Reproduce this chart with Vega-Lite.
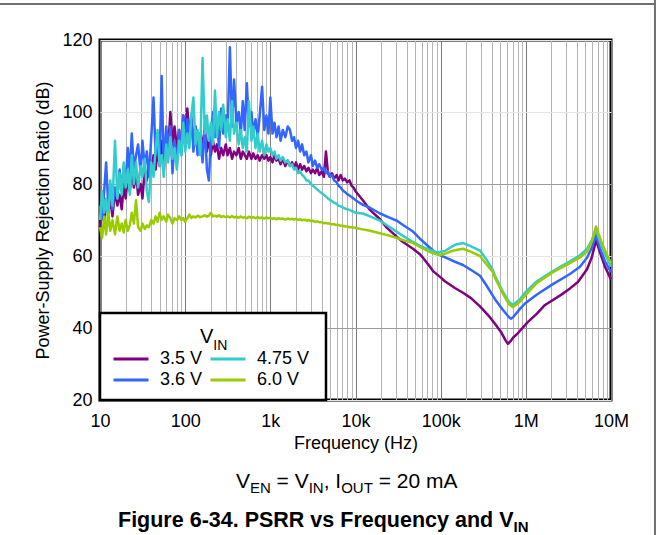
{
"$schema": "https://vega.github.io/schema/vega-lite/v6.json",
"width": 511, "height": 360,
"autosize": {"type": "none"},
"padding": {"left": 100, "top": 40, "right": 47, "bottom": 135},
"background": "white",
"config": {"view": {"stroke": "black", "strokeWidth": 3}, "font": "Liberation Sans"},
"datasets": {
"p": [{"f":10,"v":68},{"f":10.6,"v":74},{"f":11.2,"v":70},{"f":11.8,"v":75},{"f":12.5,"v":72},{"f":13.2,"v":76},{"f":14,"v":71},{"f":15,"v":78},{"f":16,"v":74},{"f":17,"v":77},{"f":18,"v":73},{"f":19,"v":80},{"f":20,"v":76},{"f":21.2,"v":82},{"f":22.4,"v":78},{"f":23.6,"v":84},{"f":25,"v":79},{"f":26.5,"v":83},{"f":28,"v":77},{"f":30,"v":80},{"f":31.5,"v":76},{"f":33.5,"v":84},{"f":35.5,"v":81},{"f":37.5,"v":86},{"f":40,"v":83},{"f":42.5,"v":88},{"f":45,"v":84},{"f":47.5,"v":90},{"f":50,"v":85},{"f":53,"v":92},{"f":56,"v":87},{"f":60,"v":94},{"f":63,"v":89},{"f":67,"v":100},{"f":71,"v":91},{"f":75,"v":96},{"f":80,"v":90},{"f":85,"v":95},{"f":90,"v":89},{"f":95,"v":99},
{"f":100,"v":92},{"f":106,"v":101},{"f":112,"v":94},{"f":118,"v":98},{"f":125,"v":92},{"f":132,"v":96},{"f":140,"v":90},{"f":150,"v":94},{"f":160,"v":91},{"f":170,"v":95},{"f":180,"v":89},{"f":190,"v":93},{"f":200,"v":88},{"f":212,"v":92},{"f":224,"v":89},{"f":236,"v":91},{"f":250,"v":87},{"f":265,"v":90},{"f":280,"v":88},{"f":300,"v":91},{"f":315,"v":88},{"f":335,"v":90},{"f":355,"v":87},{"f":375,"v":89},{"f":400,"v":88},{"f":425,"v":90},{"f":450,"v":87},{"f":475,"v":89},{"f":500,"v":88},{"f":530,"v":87},{"f":560,"v":89},{"f":600,"v":87},{"f":630,"v":88.5},{"f":670,"v":87},{"f":710,"v":88},{"f":750,"v":86.5},{"f":800,"v":88},{"f":850,"v":87},{"f":900,"v":88},{"f":950,"v":86.5},
{"f":1000,"v":87.5},{"f":1060,"v":86},{"f":1120,"v":88},{"f":1180,"v":86.5},{"f":1250,"v":87},{"f":1320,"v":85.5},{"f":1400,"v":87},{"f":1500,"v":85},{"f":1600,"v":86.5},{"f":1700,"v":85},{"f":1800,"v":86},{"f":1900,"v":84.5},{"f":2000,"v":86},{"f":2120,"v":84},{"f":2240,"v":85.5},{"f":2360,"v":84},{"f":2500,"v":85},{"f":2650,"v":83.5},{"f":2800,"v":84.5},{"f":3000,"v":83},{"f":3150,"v":84},{"f":3350,"v":83},{"f":3550,"v":84.5},{"f":3750,"v":82.5},{"f":4000,"v":83.5},{"f":4250,"v":82},{"f":4500,"v":89},{"f":4750,"v":83},{"f":5000,"v":82},{"f":5300,"v":83},{"f":5600,"v":81.5},{"f":6000,"v":82.5},{"f":6300,"v":81},{"f":6700,"v":82.5},{"f":7100,"v":81},{"f":7500,"v":81.5},{"f":8000,"v":80.5},{"f":8500,"v":81},{"f":9000,"v":79.5},{"f":9500,"v":79},
{"f":10000,"v":78},{"f":12200,"v":75.5},{"f":14800,"v":72.8},{"f":19400,"v":70.2},{"f":23400,"v":67.8},{"f":30700,"v":65.3},{"f":36100,"v":63.9},{"f":47300,"v":62},{"f":57100,"v":60.5},{"f":62000,"v":59.5},{"f":74900,"v":57},{"f":81300,"v":55.8},{"f":98200,"v":54.2},{"f":112000,"v":53},{"f":147000,"v":51.1},{"f":182800,"v":49.8},{"f":227000,"v":48.3},{"f":289500,"v":46},{"f":360000,"v":43.6},{"f":434000,"v":41.2},{"f":511000,"v":38.9},{"f":580000,"v":36.5},{"f":617000,"v":35.6},{"f":670000,"v":36.5},{"f":707000,"v":37.3},{"f":809000,"v":38.6},{"f":1060000,"v":41.7},{"f":1350000,"v":44},{"f":1680000,"v":46.4},{"f":2590000,"v":49.2},{"f":3300000,"v":51},{"f":4090000,"v":52.8},{"f":5230000,"v":56.3},{"f":5980000,"v":59.8},{"f":6670000,"v":64.4},{"f":7430000,"v":61},{"f":8500000,"v":57},{"f":10000000,"v":53.5}],
"b": [{"f":10,"v":74},{"f":10.6,"v":70},{"f":11.2,"v":78},{"f":11.8,"v":86},{"f":12.5,"v":74},{"f":13.2,"v":80},{"f":14,"v":73},{"f":15,"v":79},{"f":16,"v":76},{"f":17,"v":84},{"f":18,"v":78},{"f":19,"v":85},{"f":20,"v":80},{"f":21.2,"v":90},{"f":22.4,"v":83},{"f":23.6,"v":94},{"f":25,"v":84},{"f":26.5,"v":88},{"f":28,"v":91},{"f":30,"v":83},{"f":31.5,"v":92},{"f":33.5,"v":85},{"f":35.5,"v":89},{"f":37.5,"v":82},{"f":40,"v":93},{"f":42.5,"v":104},{"f":45,"v":88},{"f":47.5,"v":94},{"f":50,"v":86},{"f":53,"v":110},{"f":56,"v":84},{"f":60,"v":96},{"f":63,"v":90},{"f":67,"v":96},{"f":71,"v":83},{"f":75,"v":92},{"f":80,"v":86},{"f":85,"v":95},{"f":90,"v":88},{"f":95,"v":99},
{"f":100,"v":90},{"f":106,"v":98},{"f":112,"v":92},{"f":118,"v":99},{"f":125,"v":89},{"f":132,"v":96},{"f":140,"v":88},{"f":150,"v":94},{"f":160,"v":86},{"f":170,"v":97},{"f":180,"v":84},{"f":190,"v":81},{"f":200,"v":92},{"f":212,"v":100},{"f":224,"v":93},{"f":236,"v":98},{"f":250,"v":90},{"f":265,"v":101},{"f":280,"v":94},{"f":300,"v":99},{"f":315,"v":95},{"f":335,"v":118},{"f":355,"v":96},{"f":375,"v":109},{"f":400,"v":97},{"f":425,"v":100},{"f":450,"v":94},{"f":475,"v":103},{"f":500,"v":95},{"f":530,"v":108},{"f":560,"v":96},{"f":600,"v":100},{"f":630,"v":94},{"f":670,"v":98},{"f":710,"v":93},{"f":750,"v":99},{"f":800,"v":107},{"f":850,"v":95},{"f":900,"v":99},{"f":950,"v":94},
{"f":1000,"v":104},{"f":1060,"v":94},{"f":1120,"v":97},{"f":1180,"v":93},{"f":1250,"v":96},{"f":1320,"v":92},{"f":1400,"v":95},{"f":1500,"v":93},{"f":1600,"v":96},{"f":1700,"v":95},{"f":1800,"v":92},{"f":1900,"v":93},{"f":2000,"v":90},{"f":2120,"v":92},{"f":2240,"v":89},{"f":2360,"v":91},{"f":2500,"v":88},{"f":2650,"v":89},{"f":2800,"v":86},{"f":3000,"v":88},{"f":3150,"v":85},{"f":3350,"v":86.5},{"f":3550,"v":84.5},{"f":3750,"v":85.5},{"f":4000,"v":84},{"f":4250,"v":84.5},{"f":4500,"v":83},{"f":4750,"v":83.5},{"f":5000,"v":82},{"f":5300,"v":82.5},{"f":5600,"v":81},{"f":6000,"v":80.5},{"f":6300,"v":79.5},{"f":6700,"v":79},{"f":7100,"v":78.2},{"f":7500,"v":77.8},{"f":8000,"v":77.2},{"f":8500,"v":76.8},{"f":9000,"v":76.4},{"f":9500,"v":76},
{"f":10000,"v":75.5},{"f":12200,"v":74.2},{"f":14800,"v":73.4},{"f":19400,"v":71.8},{"f":25400,"v":70.6},{"f":30700,"v":69.8},{"f":36100,"v":68.6},{"f":47300,"v":66.8},{"f":57100,"v":64.8},{"f":74900,"v":62.3},{"f":90600,"v":60.6},{"f":118600,"v":59.4},{"f":147000,"v":58.4},{"f":182800,"v":57.5},{"f":221000,"v":56.3},{"f":289500,"v":54.5},{"f":350000,"v":51.6},{"f":434000,"v":48},{"f":539000,"v":45},{"f":634000,"v":43},{"f":670000,"v":42.6},{"f":707000,"v":43},{"f":853000,"v":45.3},{"f":977000,"v":46.8},{"f":1350000,"v":49.3},{"f":2080000,"v":52.2},{"f":3300000,"v":55},{"f":4320000,"v":57},{"f":5230000,"v":59.5},{"f":5980000,"v":62.4},{"f":6670000,"v":65.8},{"f":7430000,"v":62.2},{"f":8500000,"v":58.5},{"f":10000000,"v":55.5}],
"c": [{"f":10,"v":70},{"f":10.6,"v":78},{"f":11.2,"v":72},{"f":11.8,"v":76},{"f":12.5,"v":70},{"f":13.2,"v":81},{"f":14,"v":74},{"f":15,"v":92},{"f":16,"v":76},{"f":17,"v":83},{"f":18,"v":77},{"f":19,"v":86},{"f":20,"v":79},{"f":21.2,"v":84},{"f":22.4,"v":77},{"f":23.6,"v":88},{"f":25,"v":80},{"f":26.5,"v":86},{"f":28,"v":79},{"f":30,"v":85},{"f":31.5,"v":82},{"f":33.5,"v":87},{"f":35.5,"v":78},{"f":37.5,"v":75},{"f":40,"v":86},{"f":42.5,"v":82},{"f":45,"v":90},{"f":47.5,"v":95},{"f":50,"v":85},{"f":53,"v":88},{"f":56,"v":82},{"f":60,"v":91},{"f":63,"v":86},{"f":67,"v":93},{"f":71,"v":87},{"f":75,"v":90},{"f":80,"v":84},{"f":85,"v":92},{"f":90,"v":88},{"f":95,"v":97},
{"f":100,"v":89},{"f":106,"v":94},{"f":112,"v":90},{"f":118,"v":99},{"f":125,"v":104},{"f":132,"v":91},{"f":140,"v":95},{"f":150,"v":88},{"f":160,"v":115},{"f":170,"v":94},{"f":180,"v":99},{"f":190,"v":92},{"f":200,"v":97},{"f":212,"v":91},{"f":224,"v":106},{"f":236,"v":93},{"f":250,"v":100},{"f":265,"v":95},{"f":280,"v":102},{"f":300,"v":93},{"f":315,"v":98},{"f":335,"v":92},{"f":355,"v":103},{"f":375,"v":94},{"f":400,"v":97},{"f":425,"v":91},{"f":450,"v":95},{"f":475,"v":90},{"f":500,"v":93},{"f":530,"v":89},{"f":560,"v":103},{"f":600,"v":92},{"f":630,"v":96},{"f":670,"v":90},{"f":710,"v":94},{"f":750,"v":89},{"f":800,"v":92},{"f":850,"v":88},{"f":900,"v":91},{"f":950,"v":89},
{"f":1000,"v":90},{"f":1060,"v":88},{"f":1120,"v":89},{"f":1180,"v":87},{"f":1250,"v":88},{"f":1320,"v":86.5},{"f":1400,"v":87.5},{"f":1500,"v":86},{"f":1600,"v":86.5},{"f":1700,"v":85},{"f":1800,"v":85.5},{"f":1900,"v":84},{"f":2000,"v":84.5},{"f":2120,"v":83},{"f":2240,"v":83.5},{"f":2360,"v":82.5},{"f":2500,"v":82},{"f":2650,"v":81},{"f":2800,"v":81},{"f":3000,"v":80},{"f":3150,"v":79.5},{"f":3350,"v":79},{"f":3550,"v":78.5},{"f":3750,"v":78},{"f":4000,"v":77.5},{"f":4250,"v":77},{"f":4500,"v":76.5},{"f":4750,"v":76},{"f":5000,"v":75.6},{"f":5300,"v":75.2},{"f":5600,"v":74.8},{"f":6000,"v":74.5},{"f":6300,"v":74},{"f":6700,"v":73.8},{"f":7100,"v":73.5},{"f":7500,"v":73.2},{"f":8000,"v":73},{"f":8500,"v":72.8},{"f":9000,"v":72.5},{"f":9500,"v":72.3},
{"f":10000,"v":72},{"f":12200,"v":71.8},{"f":14800,"v":71},{"f":19400,"v":69.8},{"f":25400,"v":68},{"f":30700,"v":66.7},{"f":36100,"v":65.6},{"f":47300,"v":63.9},{"f":57100,"v":62.8},{"f":74900,"v":61.7},{"f":90600,"v":61},{"f":112000,"v":61.4},{"f":128600,"v":62.3},{"f":147000,"v":63.1},{"f":182800,"v":63.6},{"f":221000,"v":62.8},{"f":289500,"v":61.5},{"f":350000,"v":58.8},{"f":411000,"v":56},{"f":434000,"v":54.5},{"f":539000,"v":50},{"f":634000,"v":47.2},{"f":707000,"v":46.4},{"f":853000,"v":48},{"f":977000,"v":49.8},{"f":1350000,"v":53},{"f":2080000,"v":55.8},{"f":3300000,"v":58.5},{"f":4320000,"v":60.2},{"f":5230000,"v":62},{"f":5980000,"v":64.5},{"f":6670000,"v":67.2},{"f":7430000,"v":64},{"f":8500000,"v":60.5},{"f":10000000,"v":57}],
"g": [{"f":10,"v":68},{"f":10.6,"v":65},{"f":11.2,"v":71},{"f":11.8,"v":66},{"f":12.5,"v":72},{"f":13.2,"v":67},{"f":14,"v":70},{"f":15,"v":66},{"f":16,"v":71},{"f":17,"v":67},{"f":18,"v":69},{"f":19,"v":66.5},{"f":20,"v":70},{"f":21.2,"v":67},{"f":22.4,"v":68.5},{"f":23.6,"v":72},{"f":25,"v":69},{"f":26.5,"v":75.5},{"f":28,"v":68},{"f":30,"v":67},{"f":31.5,"v":69},{"f":33.5,"v":67.5},{"f":35.5,"v":68.5},{"f":37.5,"v":68},{"f":40,"v":70},{"f":42.5,"v":69},{"f":45,"v":71},{"f":47.5,"v":69.5},{"f":50,"v":72},{"f":53,"v":70},{"f":56,"v":71},{"f":60,"v":69.5},{"f":63,"v":71.5},{"f":67,"v":70.5},{"f":71,"v":69},{"f":75,"v":70.5},{"f":80,"v":70},{"f":85,"v":71},{"f":90,"v":70},{"f":95,"v":70.5},
{"f":100,"v":69.5},{"f":106,"v":70.5},{"f":112,"v":71.5},{"f":118,"v":70.6},{"f":125,"v":71},{"f":132,"v":70.7},{"f":140,"v":71.2},{"f":150,"v":70.8},{"f":160,"v":71},{"f":170,"v":71.3},{"f":180,"v":70.9},{"f":190,"v":71.2},{"f":200,"v":72},{"f":212,"v":71},{"f":224,"v":71.2},{"f":236,"v":70.9},{"f":250,"v":71.3},{"f":265,"v":70.8},{"f":280,"v":71.1},{"f":300,"v":70.8},{"f":315,"v":71},{"f":335,"v":70.7},{"f":355,"v":71.1},{"f":375,"v":70.7},{"f":400,"v":70.9},{"f":425,"v":70.6},{"f":450,"v":71},{"f":475,"v":70.6},{"f":500,"v":70.8},{"f":530,"v":70.5},{"f":560,"v":70.9},{"f":600,"v":70.6},{"f":630,"v":70.8},{"f":670,"v":70.5},{"f":710,"v":70.8},{"f":750,"v":70.5},{"f":800,"v":70.7},{"f":850,"v":70.4},{"f":900,"v":70.7},{"f":950,"v":70.5},
{"f":1000,"v":70.6},{"f":1060,"v":70.3},{"f":1120,"v":70.5},{"f":1180,"v":70.2},{"f":1250,"v":70.5},{"f":1320,"v":70.3},{"f":1400,"v":70.4},{"f":1500,"v":70.1},{"f":1600,"v":70.4},{"f":1700,"v":70.2},{"f":1800,"v":70.3},{"f":1900,"v":70.1},{"f":2000,"v":70.3},{"f":2120,"v":70},{"f":2240,"v":70.2},{"f":2360,"v":69.9},{"f":2500,"v":70.1},{"f":2650,"v":69.8},{"f":2800,"v":70},{"f":3000,"v":69.7},{"f":3150,"v":69.8},{"f":3350,"v":69.5},{"f":3550,"v":69.6},{"f":3750,"v":69.4},{"f":4000,"v":69.4},{"f":4250,"v":69.1},{"f":4500,"v":69.2},{"f":4750,"v":69},{"f":5000,"v":69},{"f":5300,"v":68.8},{"f":5600,"v":68.8},{"f":6000,"v":68.6},{"f":6300,"v":68.6},{"f":6700,"v":68.4},{"f":7100,"v":68.4},{"f":7500,"v":68.2},{"f":8000,"v":68.2},{"f":8500,"v":68},{"f":9000,"v":68},{"f":9500,"v":67.9},
{"f":10000,"v":67.8},{"f":12200,"v":67.4},{"f":14800,"v":67},{"f":19400,"v":66.3},{"f":25400,"v":65.6},{"f":30700,"v":65},{"f":36100,"v":64.4},{"f":47300,"v":63.6},{"f":57100,"v":62.5},{"f":74900,"v":61.1},{"f":90600,"v":60.4},{"f":98200,"v":60.3},{"f":112000,"v":60.6},{"f":128600,"v":61.2},{"f":147000,"v":61.6},{"f":182800,"v":62},{"f":221000,"v":61.3},{"f":289500,"v":60},{"f":350000,"v":57.5},{"f":411000,"v":55.5},{"f":434000,"v":54},{"f":539000,"v":49.5},{"f":634000,"v":46.6},{"f":707000,"v":45.8},{"f":853000,"v":47.3},{"f":977000,"v":49},{"f":1350000,"v":52.5},{"f":2080000,"v":55.5},{"f":3300000,"v":58},{"f":4320000,"v":59.6},{"f":5230000,"v":61.2},{"f":5980000,"v":64.2},{"f":6670000,"v":68.2},{"f":7430000,"v":65},{"f":8500000,"v":61.5},{"f":10000000,"v":58}],
"one": [{}]
},
"layer": [
{"data": {"name": "one"}, "mark": {"type": "rule", "color": "#707070", "strokeWidth": 2},
 "encoding": {"x": {"datum": 0.5, "type": "quantitative", "scale": {"type": "log", "domain": [10, 10000000], "nice": false}}, "x2": {"datum": 32840000}, "y": {"datum": 130, "type": "quantitative", "scale": {"domain": [20, 120], "nice": false, "zero": false}}}},
{"data": {"name": "one"}, "mark": {"type": "rule", "color": "#707070", "strokeWidth": 2},
 "encoding": {"x": {"datum": 32840000, "type": "quantitative", "scale": {"type": "log", "domain": [10, 10000000], "nice": false}}, "y": {"datum": 132, "type": "quantitative", "scale": {"domain": [20, 120], "nice": false, "zero": false}}, "y2": {"datum": -20}}},
{"data": {"name": "one"}, "mark": {"type": "rect", "fill": "white", "stroke": "black", "strokeWidth": 2.5},
 "encoding": {"x": {"datum": 10, "type": "quantitative", "scale": {"type": "log", "domain": [10, 10000000], "nice": false}}, "x2": {"datum": 4503}, "y": {"datum": 20, "type": "quantitative", "scale": {"domain": [20, 120], "nice": false, "zero": false}}, "y2": {"datum": 44.17}}},
{"encoding": {
  "x": {"field": "f", "type": "quantitative",
   "scale": {"type": "log", "domain": [10, 10000000], "nice": false},
   "axis": {"title": "Frequency (Hz)",
    "values": [10,20,30,40,50,60,70,80,90,100,200,300,400,500,600,700,800,900,1000,2000,3000,4000,5000,6000,7000,8000,9000,10000,20000,30000,40000,50000,60000,70000,80000,90000,100000,200000,300000,400000,500000,600000,700000,800000,900000,1000000,2000000,3000000,4000000,5000000,6000000,7000000,8000000,9000000,10000000],
    "labelExpr": "datum.value == 10 ? '10' : datum.value == 100 ? '100' : datum.value == 1000 ? '1k' : datum.value == 10000 ? '10k' : datum.value == 100000 ? '100k' : datum.value == 1000000 ? '1M' : datum.value == 10000000 ? '10M' : ''",
    "grid": true,
    "gridColor": {"condition": {"test": "indexof([10,100,1000,10000,100000,1000000,10000000], datum.value) >= 0", "value": "#7a7a7a"}, "value": "#b4b4b4"},
    "gridWidth": 1, "ticks": false, "tickSize": 0, "domain": false,
    "labelOverlap": false, "labelFlush": false, "labelBound": false,
    "labelFont": "Liberation Sans", "labelFontSize": 18, "labelColor": "black", "labelPadding": 12,
    "titleFont": "Liberation Sans", "titleFontSize": 18, "titleFontWeight": "normal", "titleColor": "black", "titlePadding": 4}},
  "y": {"field": "v", "type": "quantitative",
   "scale": {"domain": [20, 120], "nice": false, "zero": false},
   "axis": {"title": "Power-Supply Rejection Ratio (dB)",
    "values": [20, 40, 60, 80, 100, 120],
    "grid": true,
    "gridColor": {"condition": {"test": "datum.value == 40 || datum.value == 80", "value": "#9a9a9a"}, "value": "#e4e4e4"},
    "gridWidth": 1, "ticks": false, "tickSize": 0, "domain": false,
    "labelOverlap": false, "labelFlush": false, "labelBound": false,
    "labelFont": "Liberation Sans", "labelFontSize": 18, "labelColor": "black", "labelPadding": 8,
    "titleFont": "Liberation Sans", "titleFontSize": 18, "titleFontWeight": "normal", "titleColor": "black", "titlePadding": 9}}},
 "layer": [
  {"data": {"name": "p"}, "mark": {"type": "line", "strokeWidth": 2.5, "strokeJoin": "round"},
   "encoding": {"color": {"datum": "3.5 V", "type": "nominal",
    "scale": {"domain": ["3.5 V", "3.6 V", "4.75 V", "6.0 V"], "range": ["#800080", "#3366FF", "#33CCCC", "#99CC00"]},
    "legend": {"title": null, "orient": "none", "legendX": 12, "legendY": 310, "columns": 2,
     "symbolType": "stroke", "symbolSize": 1225, "symbolStrokeWidth": 3, "clipHeight": 18,
     "labelFont": "Liberation Sans", "labelFontSize": 18, "labelColor": "black", "labelOffset": 10,
     "columnPadding": 6, "rowPadding": 3, "padding": 0}}}},
  {"data": {"name": "b"}, "mark": {"type": "line", "strokeWidth": 2.5, "strokeJoin": "round"},
   "encoding": {"color": {"datum": "3.6 V", "type": "nominal"}}},
  {"data": {"name": "c"}, "mark": {"type": "line", "strokeWidth": 2.5, "strokeJoin": "round"},
   "encoding": {"color": {"datum": "4.75 V", "type": "nominal"}}},
  {"data": {"name": "g"}, "mark": {"type": "line", "strokeWidth": 2.5, "strokeJoin": "round"},
   "encoding": {"color": {"datum": "6.0 V", "type": "nominal"}}}
 ]},
{"data": {"name": "one"}, "mark": {"type": "text", "text": "V", "align": "left", "baseline": "alphabetic", "fontSize": 20, "dx": 100, "color": "black", "font": "Liberation Sans"},
 "encoding": {"x": {"datum": 10, "type": "quantitative"}, "y": {"datum": 35.83, "type": "quantitative"}}},
{"data": {"name": "one"}, "mark": {"type": "text", "text": "IN", "align": "left", "baseline": "alphabetic", "fontSize": 14, "dx": 113.3, "dy": 7, "color": "black", "font": "Liberation Sans"},
 "encoding": {"x": {"datum": 10, "type": "quantitative"}, "y": {"datum": 35.83, "type": "quantitative"}}},
{"data": {"name": "one"}, "mark": {"type": "text", "text": "V", "align": "left", "baseline": "alphabetic", "fontSize": 21, "dx": 136, "color": "black", "font": "Liberation Sans"},
 "encoding": {"x": {"datum": 10, "type": "quantitative"}, "y": {"datum": -4.44, "type": "quantitative"}}},
{"data": {"name": "one"}, "mark": {"type": "text", "text": "EN", "align": "left", "baseline": "alphabetic", "fontSize": 15, "dx": 150, "dy": 5, "color": "black", "font": "Liberation Sans"},
 "encoding": {"x": {"datum": 10, "type": "quantitative"}, "y": {"datum": -4.44, "type": "quantitative"}}},
{"data": {"name": "one"}, "mark": {"type": "text", "text": "= V", "align": "left", "baseline": "alphabetic", "fontSize": 21, "dx": 176.6, "color": "black", "font": "Liberation Sans"},
 "encoding": {"x": {"datum": 10, "type": "quantitative"}, "y": {"datum": -4.44, "type": "quantitative"}}},
{"data": {"name": "one"}, "mark": {"type": "text", "text": "IN", "align": "left", "baseline": "alphabetic", "fontSize": 15, "dx": 208.7, "dy": 5, "color": "black", "font": "Liberation Sans"},
 "encoding": {"x": {"datum": 10, "type": "quantitative"}, "y": {"datum": -4.44, "type": "quantitative"}}},
{"data": {"name": "one"}, "mark": {"type": "text", "text": ", I", "align": "left", "baseline": "alphabetic", "fontSize": 21, "dx": 223.7, "color": "black", "font": "Liberation Sans"},
 "encoding": {"x": {"datum": 10, "type": "quantitative"}, "y": {"datum": -4.44, "type": "quantitative"}}},
{"data": {"name": "one"}, "mark": {"type": "text", "text": "OUT", "align": "left", "baseline": "alphabetic", "fontSize": 15, "dx": 241.2, "dy": 5, "color": "black", "font": "Liberation Sans"},
 "encoding": {"x": {"datum": 10, "type": "quantitative"}, "y": {"datum": -4.44, "type": "quantitative"}}},
{"data": {"name": "one"}, "mark": {"type": "text", "text": "= 20 mA", "align": "left", "baseline": "alphabetic", "fontSize": 21, "dx": 278.7, "color": "black", "font": "Liberation Sans"},
 "encoding": {"x": {"datum": 10, "type": "quantitative"}, "y": {"datum": -4.44, "type": "quantitative"}}},
{"data": {"name": "one"}, "mark": {"type": "text", "text": "Figure 6-34. PSRR vs Frequency and V", "align": "left", "baseline": "alphabetic", "fontSize": 21.5, "fontWeight": "bold", "dx": 18, "color": "black", "font": "Liberation Sans"},
 "encoding": {"x": {"datum": 10, "type": "quantitative"}, "y": {"datum": -15.28, "type": "quantitative"}}},
{"data": {"name": "one"}, "mark": {"type": "text", "text": "IN", "align": "left", "baseline": "alphabetic", "fontSize": 15, "fontWeight": "bold", "dx": 413.5, "dy": 5, "color": "black", "font": "Liberation Sans"},
 "encoding": {"x": {"datum": 10, "type": "quantitative"}, "y": {"datum": -15.28, "type": "quantitative"}}}
]
}
